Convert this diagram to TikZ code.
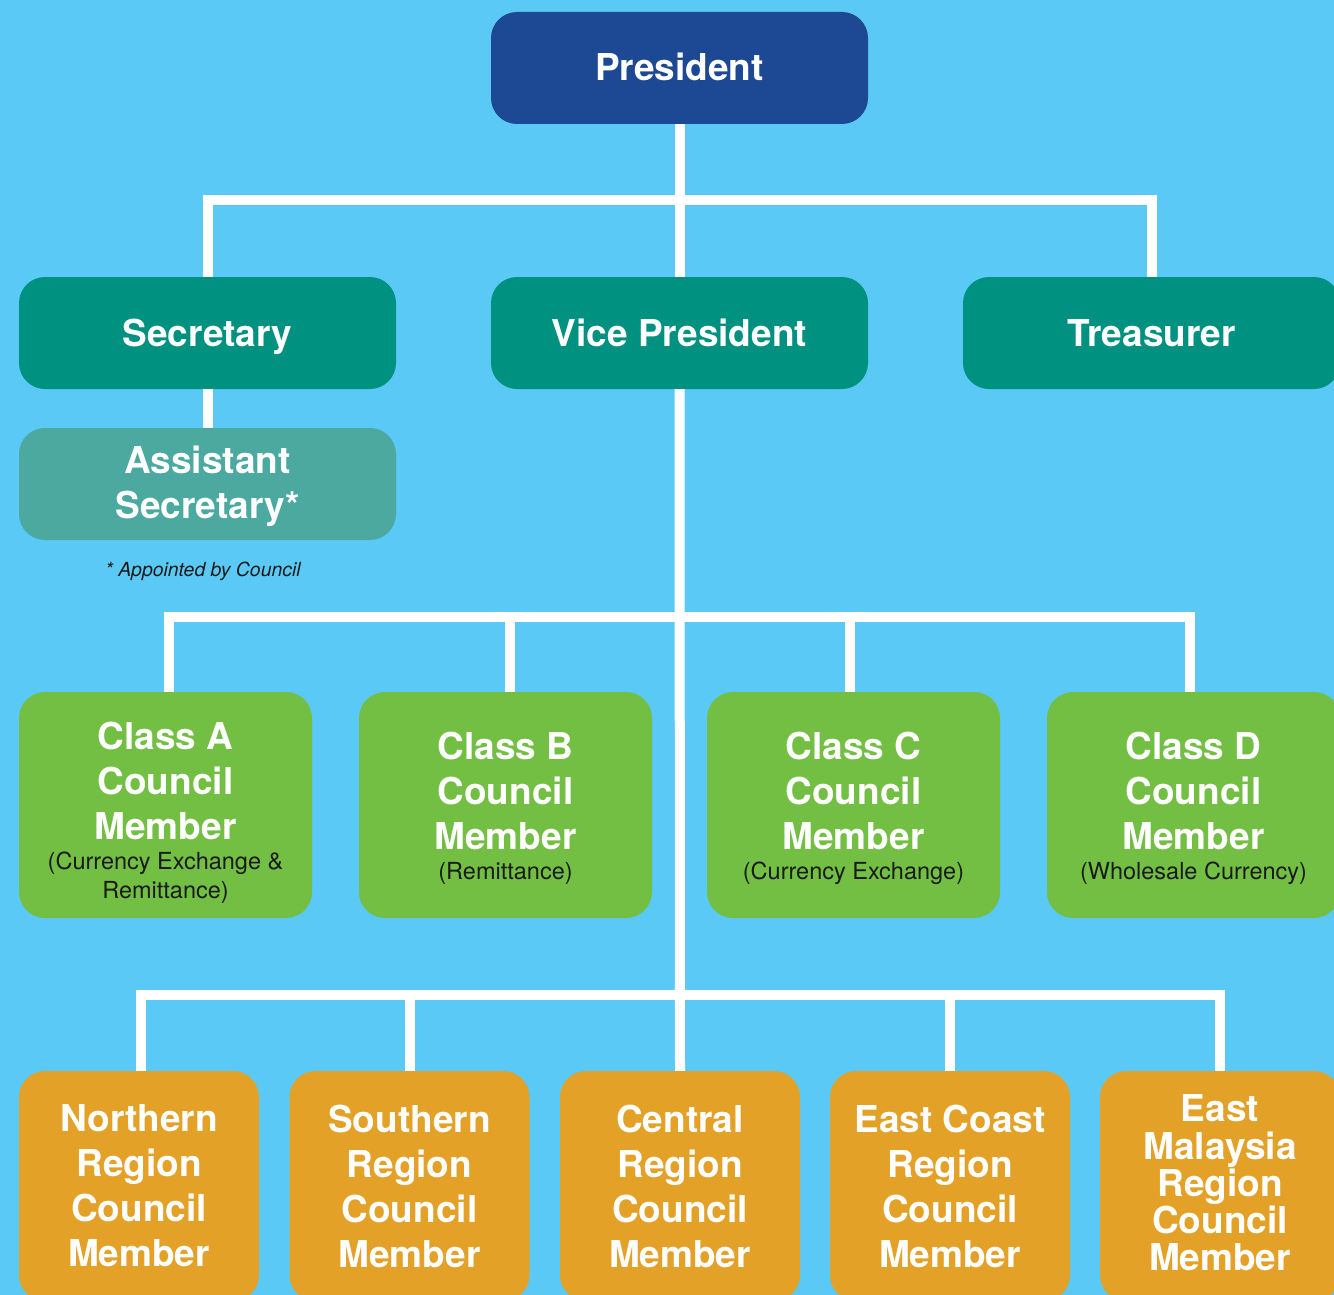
\documentclass[tikz,border=0pt]{standalone}
\usepackage{fontspec}
\setmainfont{TeX Gyre Heros}
\definecolor{bgc}{RGB}{91,201,245}
\definecolor{presc}{RGB}{29,72,148}
\definecolor{tealc}{RGB}{0,145,128}
\definecolor{asstc}{RGB}{75,169,160}
\definecolor{greenc}{RGB}{114,191,68}
\definecolor{orangec}{RGB}{227,161,39}
\definecolor{subc}{RGB}{26,26,26}
\newcommand\subtxt[1]{{\color{subc}\mdseries\fontsize{23.5}{29}\selectfont #1}}
\begin{document}
\begin{tikzpicture}[x=1pt,y=-1pt,
  boxfont/.style={font=\bfseries\fontsize{37}{45}\selectfont},
  box/.style={rectangle,rounded corners=26pt,inner sep=0pt,text=white,align=center,boxfont},
  txt/.style={text=white,align=center,inner sep=0pt,boxfont},
  topbox/.style={box,minimum width=377pt,minimum height=112pt},
  classbox/.style={box,fill=greenc,minimum width=293pt,minimum height=226pt},
  regbox/.style={box,fill=orangec,minimum width=240pt,minimum height=230pt},
  conn/.style={draw=white,line width=10pt,line join=miter}]
\clip (0,0) rectangle (1334,1295);
\fill[bgc] (0,0) rectangle (1334,1295);
\useasboundingbox (0,0) rectangle (1334,1295);

\node[topbox,fill=presc] (pres) at (679.5,68) {\raisebox{1pt}[\height][\depth]{President}};
\node[topbox,fill=tealc] (sec) at (207.5,333) {\raisebox{-4pt}[\height][\depth]{Secretary}};
\node[topbox,fill=tealc] (vp) at (679.5,333) {Vice President};
\node[topbox,fill=tealc] (tre) at (1151.5,333) {Treasurer};
\node[topbox,fill=asstc,label={[txt,yshift=-2.5pt]center:Assistant\\Secretary*}] (asst) at (207.5,484) {};
\node[font=\itshape\fontsize{19.4}{21}\selectfont,text=subc] (note) at (203,571) {* Appointed by Council};

\node[classbox,label={[txt,yshift=-8pt]center:Class A\\Council\\Member\\[-15pt]\subtxt{(Currency Exchange \&}\\[-16pt]\subtxt{Remittance)}}] (ca) at (165.5,805) {};
\node[classbox,label={[txt,yshift=-3pt]center:Class B\\Council\\Member\\[-15pt]\subtxt{(Remittance)}}] (cb) at (505.5,805) {};
\node[classbox,label={[txt,yshift=-3pt]center:Class C\\Council\\Member\\[-15pt]\subtxt{(Currency Exchange)}}] (cc) at (853.5,805) {};
\node[classbox,label={[txt,yshift=-3pt]center:Class D\\Council\\Member\\[-15pt]\subtxt{(Wholesale Currency)}}] (cd) at (1193.5,805) {};

\node[regbox] (rn) at (139,1186) {Northern\\Region\\Council\\Member};
\node[regbox] (rs) at (409.5,1186) {Southern\\Region\\Council\\Member};
\node[regbox] (rc) at (680,1186) {Central\\Region\\Council\\Member};
\node[regbox] (re) at (950,1186) {East Coast\\Region\\Council\\Member};
\node[regbox,label={[txt,yshift=3pt,font=\bfseries\fontsize{37}{37.3}\selectfont]center:East\\Malaysia\\Region\\Council\\Member}] (rm) at (1220,1186) {};

\coordinate (bar0) at (680,200);
\coordinate (bar1) at (680,617);
\coordinate (bar2) at (680,995);

\draw[conn] (pres) -- (vp);
\draw[conn] (sec.north) -- (sec.north |- bar0) -- (tre.north |- bar0) -- (tre.north);
\draw[conn] (sec) -- (asst);
\draw[conn] (vp.south) -- (rc.north);
\draw[conn] ([xshift=3.5pt]ca.north) -- ([xshift=3.5pt]ca.north |- bar1) -- ([xshift=-3.5pt]cd.north |- bar1) -- ([xshift=-3.5pt]cd.north);
\draw[conn] ([xshift=4.5pt]cb.north) -- ([xshift=4.5pt]cb.north |- bar1);
\draw[conn] ([xshift=-3.5pt]cc.north) -- ([xshift=-3.5pt]cc.north |- bar1);
\draw[conn] ([xshift=2pt]rn.north) -- ([xshift=2pt]rn.north |- bar2) -- (rm.north |- bar2) -- (rm.north);
\draw[conn] (rs.north) -- (rs.north |- bar2);
\draw[conn] (re.north) -- (re.north |- bar2);
\end{tikzpicture}
\end{document}
